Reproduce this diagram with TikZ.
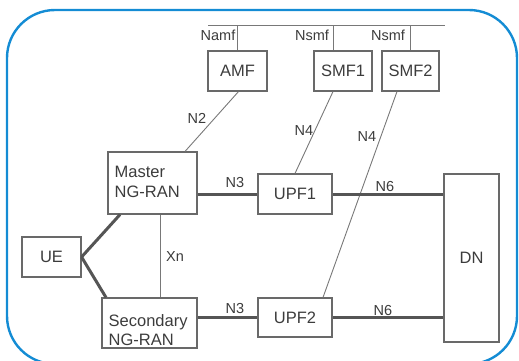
\documentclass[tikz,border=0pt]{standalone}
\usepackage{fontspec}
\setmainfont{Liberation Sans}
\definecolor{frameblue}{RGB}{20,140,212}
\definecolor{boxgray}{RGB}{105,105,105}
\definecolor{linegray}{RGB}{120,120,120}
\definecolor{thickgray}{RGB}{85,85,85}
\definecolor{textgray}{RGB}{60,60,60}
\begin{document}
\begin{tikzpicture}[x=1pt,y=-1pt,
  nf/.style={draw=boxgray,line width=1.1pt,inner sep=0pt,font=\fontsize{16.5}{19}\selectfont,text=textgray},
  nftext/.style={inner sep=0pt,align=left,anchor=west,font=\fontsize{16.5}{19.5}\selectfont,text=textgray},
  ref/.style={font=\fontsize{14.5}{16}\selectfont,text=textgray,inner sep=0pt},
  thin/.style={draw=linegray,line width=0.9pt},
  thick/.style={draw=thickgray,line width=3pt}]
\useasboundingbox (0,0) rectangle (519,360);
\draw[frameblue,line width=2.4pt,rounded corners=48pt] (7,10) rectangle (517,364);

% network functions
\node[nf,minimum width=59pt,minimum height=40pt] (AMF) at (237.5,71) {AMF};
\node[nf,minimum width=58pt,minimum height=40pt] (SMF1) at (343,71) {SMF1};
\node[nf,minimum width=57pt,minimum height=40pt] (SMF2) at (410.5,71) {SMF2};
\node[nf,minimum width=89pt,minimum height=62pt] (Master) at (152.5,183) {};
\node[nftext] (MasterText) at (114.5,182) {Master\\NG-RAN};
\node[nf,minimum width=95pt,minimum height=50pt] (Secondary) at (149.5,323) {};
\node[nftext] (SecondaryText) at (108.5,330) {Secondary\\NG-RAN};
\node[nf,minimum width=59pt,minimum height=40pt] (UE) at (51.5,257) {UE};
\node[nf,minimum width=74pt,minimum height=40pt] (UPF1) at (295,194) {UPF1};
\node[nf,minimum width=74pt,minimum height=39pt] (UPF2) at (295,317.5) {UPF2};
\node[nf,minimum width=55pt,minimum height=168pt] (DN) at (471.5,258) {DN};

% service bus
\coordinate (busL) at (208,25);
\coordinate (busR) at (445,25);
\draw[thin] (busL) -- (busR);
\draw[thin] (AMF.north) -- (AMF.north |- busL);
\draw[thin] ([xshift=-10pt]SMF1.north) -- ([xshift=-10pt]SMF1.north |- busL);
\draw[thin] (SMF2.north) -- (SMF2.north |- busL);
\node[ref] (lNamf) at (218,35) {Namf};
\node[ref] (lNsmf1) at (312,35) {Nsmf};
\node[ref] (lNsmf2) at (388,35) {Nsmf};

% control plane
\draw[thin] ([xshift=1pt]AMF.south) -- ([xshift=32.5pt]Master.north);
\node[ref] (lN2) at (197,118) {N2};
\draw[thin] ([xshift=-10pt]SMF1.south) -- (UPF1.north);
\node[ref] (lN4a) at (304,131) {N4};
\draw[thin] ([xshift=-13.5pt]SMF2.south) -- ([xshift=28pt]UPF2.north);
\node[ref] (lN4b) at (367,137) {N4};
\draw[thin] ([xshift=7.5pt]Master.south) -- ([xshift=7.5pt]Master.south |- Secondary.north);
\node[ref] (lXn) at (175,257) {Xn};

% radio and user plane
\draw[thick] (UE.east) -- ([xshift=-32.5pt]Master.south);
\draw[thick] (UE.east) -- ([xshift=-43.5pt]Secondary.north);
\draw[thick] (UPF1.west -| Master.east) -- (UPF1.west);
\draw[thick] (UPF2.west -| Secondary.east) -- (UPF2.west);
\draw[thick] (UPF1.east) -- (UPF1.east -| DN.west);
\draw[thick] (UPF2.east) -- (UPF2.east -| DN.west);
\node[ref] (lN3a) at (235,183) {N3};
\node[ref] (lN3b) at (235,308) {N3};
\node[ref] (lN6a) at (385,187) {N6};
\node[ref] (lN6b) at (383,310) {N6};
\end{tikzpicture}
\end{document}
